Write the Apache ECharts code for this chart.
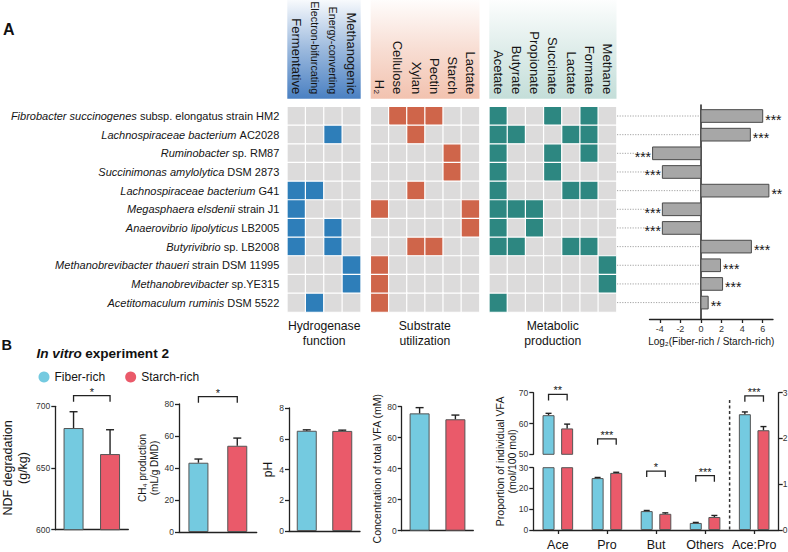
<!DOCTYPE html>
<html><head><meta charset="utf-8">
<script src="https://cdn.jsdelivr.net/npm/echarts@6/dist/echarts.min.js"></script>
<style>html,body{margin:0;padding:0;background:#fff}#c{width:788px;height:552px}</style>
</head><body><div id="c"></div>
<script>
// ---------------- DATA ----------------
const speciesItalic = ['Fibrobacter succinogenes','Lachnospiraceae bacterium','Ruminobacter','Succinimonas amylolytica','Lachnospiraceae bacterium','Megasphaera elsdenii','Anaerovibrio lipolyticus','Butyrivibrio','Methanobrevibacter thaueri','Methanobrevibacter','Acetitomaculum ruminis'];
const speciesSuffix = [' subsp. elongatus strain HM2',' AC2028',' sp. RM87',' DSM 2873',' G41',' strain J1',' LB2005',' sp. LB2008',' strain DSM 11995',' sp.YE315',' DSM 5522'];
const hydrogenaseCols = ['Fermentative','Electron-bifurcating','Energy-converting','Methanogenic'];
const substrateCols = ['H₂','Cellulose','Xylan','Pectin','Starch','Lactate'];
const metabolicCols = ['Acetate','Butyrate','Propionate','Succinate','Lactate','Formate','Methane'];
const hydrogenase = [[0,0,0,0],[0,0,1,0],[0,0,0,0],[0,0,0,0],[1,1,0,0],[1,0,0,0],[1,0,1,0],[1,0,1,0],[0,0,0,1],[0,0,0,1],[0,1,0,0]];
const substrate = [[0,1,1,1,0,0],[0,0,1,0,0,0],[0,0,0,0,1,0],[0,0,0,0,1,0],[0,0,1,0,0,0],[1,0,0,0,0,1],[0,0,0,0,0,1],[0,0,1,1,0,0],[1,0,0,0,0,0],[1,0,0,0,0,0],[1,0,0,0,0,0]];
const metabolic = [[1,0,0,1,0,1,0],[1,1,0,0,1,1,0],[1,0,0,1,0,1,0],[1,0,0,1,0,0,0],[1,0,0,0,1,1,0],[1,1,1,0,0,0,0],[1,0,1,0,0,0,0],[1,1,0,0,1,1,0],[0,0,0,0,0,0,1],[0,0,0,0,0,0,1],[1,0,0,0,0,0,0]];
const log2Ratio = [6.0, 4.8, -4.7, -3.75, 6.6, -3.75, -3.75, 4.9, 1.9, 2.1, 0.7];
const log2Sig = ['***','***','***','***','**','***','***','***','***','***','**'];
const log2Ticks = [-4,-2,0,2,4,6];

const groups = ['Fiber-rich','Starch-rich'];
const ndfMean = [682.4, 661.3], ndfErr = [13.2, 19.7];
const ch4Mean = [43.3, 53.9], ch4Err = [2.3, 4.8];
const phMean = [6.52, 6.51], phErr = [0.06, 0.05];
const vfaMean = [75.7, 71.9], vfaErr = [3.7, 2.7];
const propCats = ['Ace','Pro','But','Others','Ace:Pro'];
const propFiber = [62.7, 25.0, 9.1, 3.4], propFiberErr = [0.6, 0.3, 0.3, 0.25];
const propStarch = [58.4, 27.5, 7.8, 6.25], propStarchErr = [1.4, 0.3, 0.45, 0.75];
const aceProFiber = 2.53, aceProFiberErr = 0.05;
const aceProStarch = 2.18, aceProStarchErr = 0.08;
// significance annotations: [catStart, catEnd, level(in axis units)], label
const ndfSig = [[0, 1, 708.6]], ndfSigLabel = ['*'];
const ch4Sig = [[0, 1, 84.6]], ch4SigLabel = ['*'];
const propSig = [[0,0,2.963],[1,1,1.993],[2,2,1.288],[3,3,1.186],[4,4,2.932]];
const propSigLabel = ['**','***','*','***','***'];

// ---------------- STYLE ----------------
const FONT = '"Liberation Sans", Arial, Helvetica, sans-serif';
const INK = '#151515';
const CYAN = '#74cae0', RED = '#ea5a6a', EDGE = '#555';
const axisInk = {color:'#222', width:1.3};
const PROP_OFF = 9.3;

const chart = echarts.init(document.getElementById('c'), null, {renderer:'svg', width:788, height:552});

function heatData(mat, code){ const out=[]; mat.forEach((row,r)=>row.forEach((v,c)=>out.push([c,r,v?code:0]))); return out; }

const grids = [
  {left:287.3, top:106.7, width:73.4, height:205.3},
  {left:370.7, top:106.7, width:108.8, height:205.3},
  {left:489.3, top:106.7, width:127.2, height:205.3},
  {left:649.5, top:105, width:123.5, height:214},
  {left:55.3, top:406.3, width:73, height:123.4},
  {left:179, top:404, width:77.7, height:128},
  {left:289, top:408, width:71, height:123},
  {left:401.7, top:406.7, width:71.6, height:124},
  {left:533.3, top:392.7, width:245.4, height:61.6},
  {left:533.3, top:467.7, width:245.4, height:62.3},
  {left:533.3, top:392.7, width:245.4, height:137.3}
].map(g => Object.assign({containLabel:false, outerBoundsMode:'none'}, g));

const xAxes = [], yAxes = [];
[hydrogenaseCols, substrateCols, metabolicCols].forEach((cols, g) => {
  xAxes.push({gridIndex:g, type:'category', data:cols, position:'top',
    axisLine:{show:false}, axisTick:{show:false}, splitLine:{show:false},
    axisLabel:{interval:0, rotate:90, margin:12.5, color:INK,
      formatter:(v) => (v.length > 15 ? '{s|' : '{n|') + v + '}',
      rich:{n:{fontSize:13, color:INK, fontFamily:FONT}, s:{fontSize:10.8, color:INK, fontFamily:FONT}}}});
  yAxes.push({gridIndex:g, type:'category', data:speciesItalic.map((s,i)=>s+speciesSuffix[i]), inverse:true,
    axisLine:{show:false}, axisTick:{show:false}, splitLine:{show:false},
    axisLabel: g === 0 ? {interval:0, margin:8, color:INK,
      formatter:(v, i) => '{i|' + speciesItalic[i] + '}{n|' + speciesSuffix[i] + '}',
      rich:{i:{fontStyle:'italic', fontSize:11, color:INK, fontFamily:FONT}, n:{fontSize:11, color:INK, fontFamily:FONT}}}
      : {show:false}});
});
// log2 bar panel
xAxes.push({gridIndex:3, type:'value', min:-5, max:7, position:'bottom',
  axisLine:{show:true, onZero:false, lineStyle:axisInk},
  axisTick:{show:true, length:4, customValues:log2Ticks, lineStyle:axisInk},
  axisLabel:{customValues:log2Ticks, fontSize:9, color:'#333', margin:5},
  splitLine:{show:false},
  name:'Log₂(Fiber-rich / Starch-rich)', nameLocation:'middle', nameGap:17,
  nameTextStyle:{fontSize:10, color:INK}});
yAxes.push({gridIndex:3, type:'value', min:-0.59, max:10.88, inverse:true,
  axisLine:{show:true, onZero:true, lineStyle:{color:'#222', width:1.5}},
  axisTick:{show:false}, axisLabel:{show:false}, splitLine:{show:false}});

function bAxes(g, min, max, interval, name, gap, fs, lh){
  xAxes.push({gridIndex:g, type:'category', data:groups, axisLine:{show:true, lineStyle:axisInk}, axisTick:{show:false}, axisLabel:{show:false}});
  yAxes.push({gridIndex:g, type:'value', min, max, interval,
    axisLine:{show:true, lineStyle:axisInk}, axisTick:{show:true, length:4, lineStyle:axisInk},
    axisLabel:{fontSize:8.5, color:'#333', margin:5}, splitLine:{show:false},
    name, nameLocation:'middle', nameGap:gap, nameTextStyle:{fontSize:fs, lineHeight:lh, color:INK}});
}
bAxes(4, 600, 700, 50, 'NDF degradation\n(g/kg)', 25, 12.5, 15);
bAxes(5, 0, 80, 20, 'CH₄ production\n(mL/g DMD)', 16, 10, 12);
bAxes(6, 0, 8, 2, 'pH', 9, 12, 14);
bAxes(7, 0, 80, 20, 'Concentration of total VFA (mM)', 10, 10.5, 12);
// proportion panel
xAxes.push({gridIndex:8, type:'category', data:propCats, show:false});
yAxes.push({gridIndex:8, type:'value', min:50, max:70, interval:10,
  axisLine:{show:true, lineStyle:axisInk}, axisTick:{show:true, length:4, lineStyle:axisInk},
  axisLabel:{fontSize:8.5, color:'#333', margin:5}, splitLine:{show:false}});
xAxes.push({gridIndex:9, type:'category', data:propCats,
  axisLine:{show:true, lineStyle:axisInk}, axisTick:{show:true, alignWithLabel:true, length:4, lineStyle:axisInk},
  axisLabel:{interval:0, fontSize:12.5, color:INK, margin:8}});
yAxes.push({gridIndex:9, type:'value', min:0, max:30, interval:10,
  axisLine:{show:true, lineStyle:axisInk}, axisTick:{show:true, length:4, lineStyle:axisInk},
  axisLabel:{fontSize:8.5, color:'#333', margin:5}, splitLine:{show:false}});
xAxes.push({gridIndex:10, type:'category', data:propCats, show:false});
yAxes.push({gridIndex:10, type:'value', position:'right', min:0, max:3, interval:1,
  axisLine:{show:true, lineStyle:axisInk}, axisTick:{show:true, length:4, lineStyle:axisInk},
  axisLabel:{fontSize:8.5, color:'#333', margin:4}, splitLine:{show:false}});
yAxes.push({gridIndex:10, type:'value', position:'left', min:0, max:1,
  axisLine:{show:false}, axisTick:{show:false}, axisLabel:{show:false}, splitLine:{show:false},
  name:'Proportion of individual VFA\n(mol/100 mol)', nameLocation:'middle', nameGap:15,
  nameTextStyle:{fontSize:10.5, lineHeight:12, color:INK}});

// ---------------- SERIES ----------------
const series = [];
[hydrogenase, substrate, metabolic].forEach((m, g) => {
  series.push({type:'heatmap', xAxisIndex:g, yAxisIndex:g, data:heatData(m, g+1),
    itemStyle:{borderColor:'#fff', borderWidth:1.2}, emphasis:{disabled:true}});
});

series.push({type:'custom', xAxisIndex:3, yAxisIndex:3, clip:false, z:3,
  data: log2Ratio.map((v,i)=>[v,i]), encode:{x:0, y:1},
  renderItem:(params, api) => {
    const v = api.value(0), i = api.value(1);
    const p0 = api.coord([0, i]), p1 = api.coord([v, i]);
    const h = api.size([0, 1])[1] * 0.68;
    const sig = log2Sig[params.dataIndex];
    const tw = sig.length * 0.389 * 14;
    const x0 = params.coordSys.x - 32.5;
    const xe = v >= 0 ? p0[0] - 1 : p1[0] - 1.5 - tw;
    return {type:'group', children:[
      {type:'line', shape:{x1:x0, y1:p0[1], x2:xe, y2:p0[1]}, style:{stroke:'#9a9a9a', lineWidth:0.9, lineDash:[1.2,1.4]}},
      {type:'rect', shape:{x:Math.min(p0[0],p1[0]), y:p0[1]-h/2, width:Math.abs(p1[0]-p0[0]), height:h},
        style:{fill:'#a7a7a7', stroke:'#4a4a4a', lineWidth:1}},
      {type:'text', x: v >= 0 ? p1[0] + 2.5 : p1[0] - 1.5, y: p0[1] + 3.5,
        style:{text:sig, align: v >= 0 ? 'left' : 'right', verticalAlign:'middle', fontSize:14, fontFamily:FONT, fill:INK}}
    ]};
  }});

function errRender(params, api){
  const cat = api.value(0), m = api.value(1), e = api.value(2), side = api.value(3);
  const p0 = api.coord([cat, m]), p1 = api.coord([cat, m + e]);
  const x = p0[0] + side * PROP_OFF;
  const cw = side === 0 ? 4 : 3;
  return {type:'group', children:[
    {type:'line', shape:{x1:x, y1:p0[1], x2:x, y2:p1[1]}, style:{stroke:'#222', lineWidth:1.4}},
    {type:'line', shape:{x1:x-cw, y1:p1[1], x2:x+cw, y2:p1[1]}, style:{stroke:'#222', lineWidth:1.4}}
  ]};
}
function makeBracket(labels, spread, fs){
  return (params, api) => {
    const a = api.value(0), b = api.value(1), lvl = api.value(2);
    const pa = api.coord([a, lvl]), pb = api.coord([b, lvl]);
    const xl = pa[0] - spread, xr = pb[0] + spread, y = pa[1];
    return {type:'group', children:[
      {type:'polyline', shape:{points:[[xl,y+6],[xl,y],[xr,y],[xr,y+6]]}, style:{stroke:'#222', lineWidth:1.3, fill:null}},
      {type:'text', x:(xl+xr)/2, y:y+1.5, style:{text:labels[params.dataIndex], align:'center', verticalAlign:'bottom', fontSize:fs, fontFamily:FONT, fill:INK}}
    ]};
  };
}
function pairPanel(g, mean, err, sig, sigLabel){
  series.push({type:'bar', name:groups[0], xAxisIndex:g, yAxisIndex:g, data:[mean[0], '-'], barWidth:20, barGap:'-100%',
    itemStyle:{color:CYAN, borderColor:EDGE, borderWidth:1}});
  series.push({type:'bar', name:groups[1], xAxisIndex:g, yAxisIndex:g, data:['-', mean[1]], barWidth:20, barGap:'-100%',
    itemStyle:{color:RED, borderColor:EDGE, borderWidth:1}});
  series.push({type:'custom', xAxisIndex:g, yAxisIndex:g, clip:false, z:3, encode:{x:0, y:1},
    data:[[0, mean[0], err[0], 0], [1, mean[1], err[1], 0]], renderItem:errRender});
  if (sig) series.push({type:'custom', xAxisIndex:g, yAxisIndex:g, clip:false, z:3, encode:{x:0, y:2},
    data:sig, renderItem:makeBracket(sigLabel, 0, 11)});
}
pairPanel(4, ndfMean, ndfErr, ndfSig, ndfSigLabel);
pairPanel(5, ch4Mean, ch4Err, ch4Sig, ch4SigLabel);
pairPanel(6, phMean, phErr, null, null);
pairPanel(7, vfaMean, vfaErr, null, null);

function propBars(g, fib, sta){
  series.push({type:'bar', name:groups[0], xAxisIndex:g, yAxisIndex:g, data:fib, barWidth:12, barGap:'55%',
    itemStyle:{color:CYAN, borderColor:EDGE, borderWidth:1}});
  series.push({type:'bar', name:groups[1], xAxisIndex:g, yAxisIndex:g, data:sta, barWidth:12, barGap:'55%',
    itemStyle:{color:RED, borderColor:EDGE, borderWidth:1}});
}
propBars(8, [propFiber[0],'-','-','-','-'], [propStarch[0],'-','-','-','-']);
propBars(9, [...propFiber, '-'], [...propStarch, '-']);
series.push({type:'bar', name:groups[0], xAxisIndex:10, yAxisIndex:10, data:['-','-','-','-',aceProFiber], barWidth:12, barGap:'55%',
  itemStyle:{color:CYAN, borderColor:EDGE, borderWidth:1}});
series.push({type:'bar', name:groups[1], xAxisIndex:10, yAxisIndex:10, data:['-','-','-','-',aceProStarch], barWidth:12, barGap:'55%',
  itemStyle:{color:RED, borderColor:EDGE, borderWidth:1}});
series.push({type:'custom', xAxisIndex:8, yAxisIndex:8, clip:false, z:3, encode:{x:0,y:1}, renderItem:errRender,
  data:[[0, propFiber[0], propFiberErr[0], -1], [0, propStarch[0], propStarchErr[0], 1]]});
const lowerErr = [];
for (let k = 1; k < 4; k++) { lowerErr.push([k, propFiber[k], propFiberErr[k], -1]); lowerErr.push([k, propStarch[k], propStarchErr[k], 1]); }
series.push({type:'custom', xAxisIndex:9, yAxisIndex:9, clip:false, z:3, encode:{x:0,y:1}, renderItem:errRender, data:lowerErr});
series.push({type:'custom', xAxisIndex:10, yAxisIndex:10, clip:false, z:3, encode:{x:0,y:1}, renderItem:errRender,
  data:[[4, aceProFiber, aceProFiberErr, -1], [4, aceProStarch, aceProStarchErr, 1]]});
series.push({type:'custom', xAxisIndex:10, yAxisIndex:10, clip:false, z:3, encode:{x:0,y:2},
  data:propSig, renderItem:makeBracket(propSigLabel, PROP_OFF, 11)});
// dashed separator between VFA proportions and Ace:Pro ratio
series.push({type:'custom', xAxisIndex:10, yAxisIndex:10, clip:false, z:3, encode:{x:0,y:1},
  data:[[3, 2.84]], renderItem:(params, api) => {
    const p = api.coord([api.value(0), api.value(1)]), p0 = api.coord([api.value(0), 0]);
    const x = p[0] + api.size([1, 0])[0] / 2;
    return {type:'line', shape:{x1:x, y1:p[1], x2:x, y2:p0[1]}, style:{stroke:'#333', lineWidth:1.5, lineDash:[3,2.5]}};
  }});

function grad(c){
  return new echarts.graphic.LinearGradient(0, 0, 0, 1, [
    {offset:0, color:echarts.color.modifyAlpha(c, 0.04)},
    {offset:0.5, color:echarts.color.modifyAlpha(c, 0.55)},
    {offset:1, color:c}]);
}

const option = {
  animation:false,
  textStyle:{fontFamily:FONT},
  grid:grids, xAxis:xAxes, yAxis:yAxes, series,
  visualMap:[{type:'piecewise', show:false, seriesIndex:[0,1,2], dimension:2,
    pieces:[{value:0, color:'#dcdbdb'}, {value:1, color:'#2e7eb9'}, {value:2, color:'#cf654a'}, {value:3, color:'#2d8781'}]}],
  legend:{data:groups, left:33.5, top:366, icon:'circle', itemWidth:11, itemHeight:11, itemGap:20,
    itemStyle:{borderWidth:0}, textStyle:{fontSize:12, color:INK, fontFamily:FONT}, selectedMode:false},
  graphic:[
    {type:'rect', z:-10, silent:true, shape:{x:287.3, y:0, width:73.4, height:98.7}, style:{fill:grad('#4a80c2')}},
    {type:'rect', z:-10, silent:true, shape:{x:370.7, y:0, width:108.8, height:98.7}, style:{fill:grad('#f2c2af')}},
    {type:'rect', z:-10, silent:true, shape:{x:489.3, y:0, width:127.2, height:98.7}, style:{fill:grad('#c4ded9')}},
    {type:'text', x:3, y:29.2, style:{text:'A', fontSize:16, fontWeight:'bold', fill:'#111', fontFamily:FONT, verticalAlign:'middle'}},
    {type:'text', x:1.5, y:345, style:{text:'B', fontSize:14.5, fontWeight:'bold', fill:'#111', fontFamily:FONT, verticalAlign:'middle'}},
    {type:'text', x:36.5, y:353.3, style:{text:'{i|In vitro} {b|experiment 2}', verticalAlign:'middle',
      rich:{i:{fontStyle:'italic', fontWeight:'bold', fontSize:13.6, fill:'#111', fontFamily:FONT},
            b:{fontWeight:'bold', fontSize:13.6, fill:'#111', fontFamily:FONT}}}},
    {type:'text', x:324.2, y:318.5, style:{text:'Hydrogenase\nfunction', align:'center', verticalAlign:'top', fontSize:12.2, lineHeight:15, fill:INK, fontFamily:FONT}},
    {type:'text', x:424.8, y:318.5, style:{text:'Substrate\nutilization', align:'center', verticalAlign:'top', fontSize:12.2, lineHeight:15, fill:INK, fontFamily:FONT}},
    {type:'text', x:552.8, y:318.5, style:{text:'Metabolic\nproduction', align:'center', verticalAlign:'top', fontSize:12.2, lineHeight:15, fill:INK, fontFamily:FONT}}
  ]
};
chart.setOption(option);
</script></body></html>
